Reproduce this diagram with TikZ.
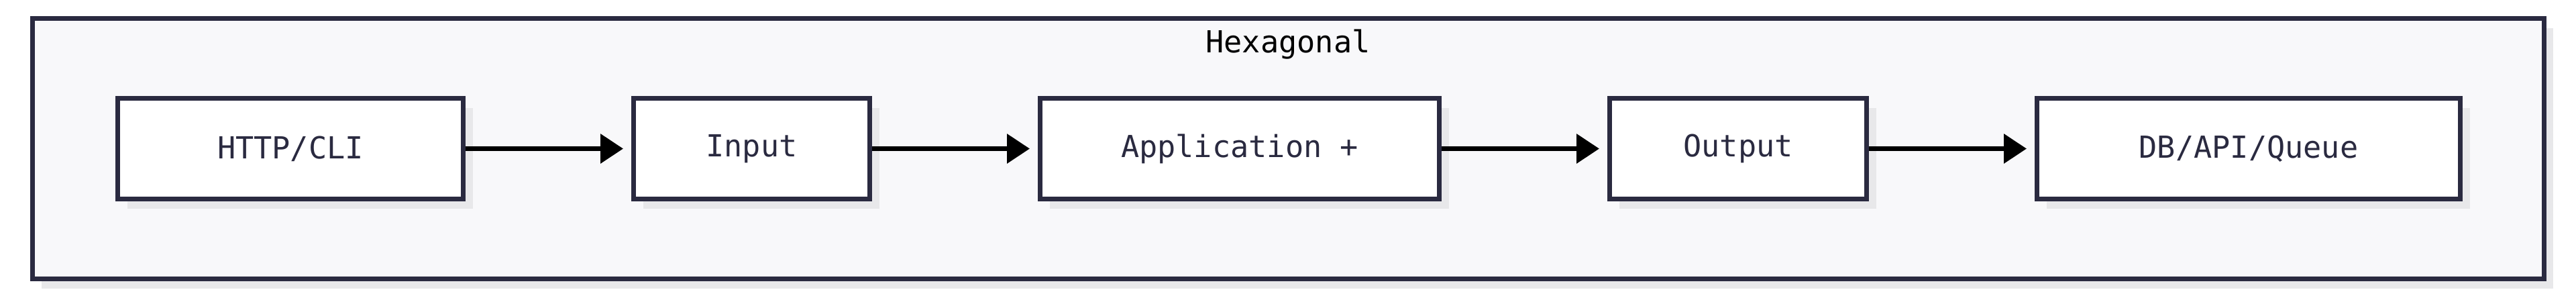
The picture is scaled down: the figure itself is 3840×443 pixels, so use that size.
\documentclass[tikz,border=0pt]{standalone}
\usepackage{fontspec}
\setmainfont{DejaVu Sans Mono}
\usepackage{xcolor}
\usetikzlibrary{positioning,shadows,arrows.meta}
\definecolor{edgecol}{HTML}{2A2A40}
\definecolor{shadecol}{HTML}{E8E8EA}
\definecolor{backcol}{HTML}{F8F8FA}

\begin{document}
\begin{tikzpicture}[x=0.25pt, y=0.25pt,
  box/.style={draw=edgecol, line width=1.75pt, fill=white, text=edgecol,
    minimum height=37.5pt, font=\fontsize{11.3}{13}\selectfont,
    drop shadow={shadow xshift=3.5pt, shadow yshift=-3.5pt, fill=shadecol, opacity=1}},
  frame/.style={draw=edgecol, line width=1.75pt, fill=backcol,
    minimum width=936pt, minimum height=97.1pt,
    drop shadow={shadow xshift=3.5pt, shadow yshift=-3.5pt, fill=shadecol, opacity=1}},
  flow/.style={line width=1.65pt, -{Triangle[length=8.5pt, width=10.75pt]}, shorten >=3pt}]
\useasboundingbox (0,0) rectangle (3840,-443);
\node[frame] (hex) at (1920,-221.75) {};
\node[anchor=base, text=black, font=\fontsize{11.3}{13}\selectfont] (hexlabel) at (1920,-78) {Hexagonal};
\node[box, minimum width=128.75pt] (http) at (433,-221.5) {HTTP/CLI};
\node[box, minimum width=88pt, right=61.75pt of http] (input) {Input};
\node[box, minimum width=148.75pt, right=61.75pt of input] (app) {Application +};
\node[box, minimum width=95.75pt, right=61.75pt of app] (output) {Output};
\node[box, minimum width=157.75pt, right=61.75pt of output] (db) {DB/API/Queue};
\draw[flow] (http) -- (input);
\draw[flow] (input) -- (app);
\draw[flow] (app) -- (output);
\draw[flow] (output) -- (db);
\end{tikzpicture}
\end{document}
